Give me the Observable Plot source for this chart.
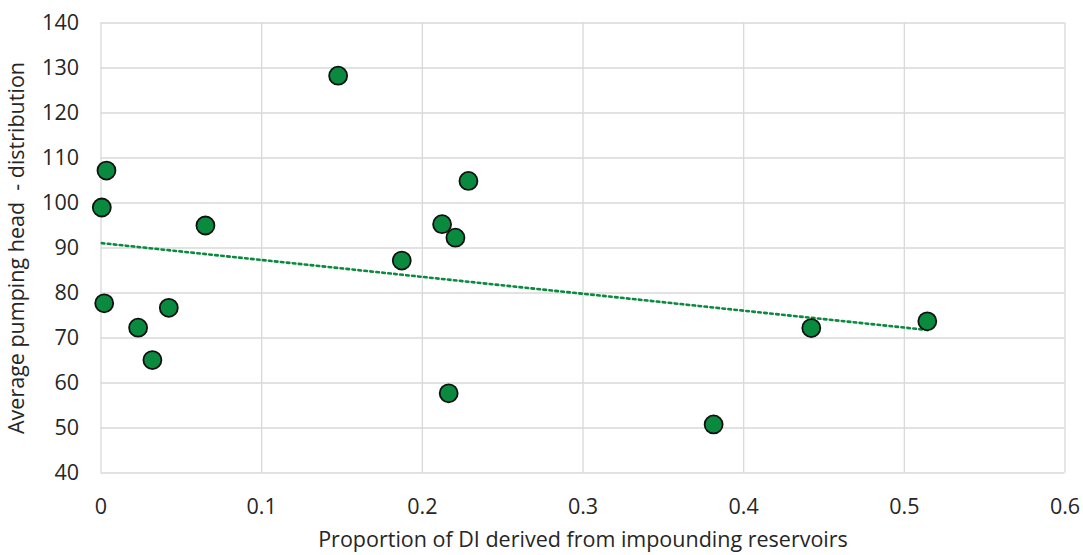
<!DOCTYPE html>
<html>
<head>
<meta charset="utf-8">
<script src="https://cdn.jsdelivr.net/npm/d3@7"></script>
<script src="https://cdn.jsdelivr.net/npm/@observablehq/plot@0.6"></script>
<style>
  html, body { margin: 0; padding: 0; background: #fff; }
  #chart svg { display: block; }
</style>
</head>
<body>
<div id="chart"></div>
<script>
const proportion = [0.0005, 0.0034, 0.002, 0.0231, 0.032, 0.0422, 0.065, 0.1476, 0.1872, 0.2123, 0.2206, 0.2287, 0.2164, 0.3813, 0.4421, 0.5143];
const pumpingHead = [99.0, 107.2, 77.7, 72.3, 65.1, 76.7, 95.0, 128.3, 87.2, 95.3, 92.3, 104.9, 57.7, 50.8, 72.2, 73.7];
const xTicks = [0, 0.1, 0.2, 0.3, 0.4, 0.5, 0.6];
const yTicks = [40, 50, 60, 70, 80, 90, 100, 110, 120, 130, 140];

const data = proportion.map((x, i) => ({x, y: pumpingHead[i]}));

const green = "#0a8a3e";

const chart = Plot.plot({
  width: 1083,
  height: 555,
  marginLeft: 100.5,
  marginRight: 18.5,
  marginTop: 22.5,
  marginBottom: 82.5,
  style: {fontFamily: "'Open Sans', sans-serif", fontSize: "21.5px", color: "#262626", background: "#fff"},
  x: {domain: [0, 0.6], ticks: xTicks},
  y: {domain: [40, 140], ticks: yTicks},
  marks: [
    Plot.gridX(xTicks, {stroke: "#d9d9d9", strokeOpacity: 1, strokeWidth: 1.3}),
    Plot.gridY(yTicks, {stroke: "#d9d9d9", strokeOpacity: 1, strokeWidth: 1.3}),
    Plot.axisX(xTicks, {tickSize: 0, tickPadding: 26, tickFormat: d => String(d), fontSize: 21.5,
      label: "Proportion of DI derived from impounding reservoirs", labelAnchor: "center", labelArrow: "none", labelOffset: 74}),
    Plot.axisY(yTicks, {tickSize: 0, tickPadding: 22, fontSize: 21.5,
      label: "Average pumping head  - distribution", labelAnchor: "center", labelArrow: "none", labelOffset: 92}),
    Plot.linearRegressionY(data, {x: "x", y: "y", ci: 0, stroke: green, strokeWidth: 2.6, strokeDasharray: "2.6,3.4"}),
    Plot.dot(data, {x: "x", y: "y", r: 9, fill: green, stroke: "#111", strokeWidth: 1.8})
  ]
});

document.getElementById("chart").append(chart);
</script>
</body>
</html>
